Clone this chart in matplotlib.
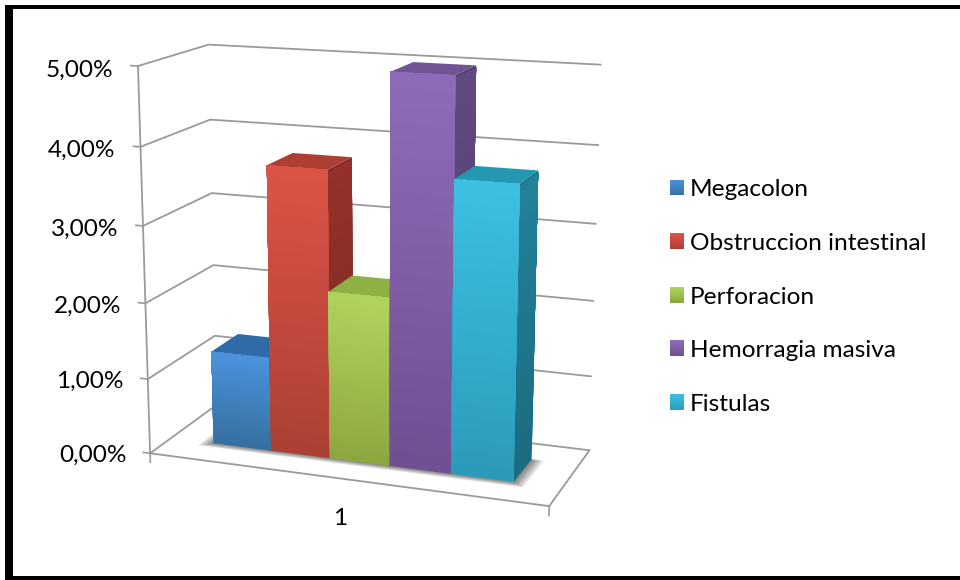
# 3D column chart of complication rates
import numpy as np
import matplotlib
matplotlib.use('Agg')
import matplotlib.pyplot as plt
from matplotlib.legend_handler import HandlerBase
from matplotlib.patches import Patch, Rectangle
from mpl_toolkits.mplot3d import proj3d
from mpl_toolkits.mplot3d.art3d import Poly3DCollection

categories = ["Megacolon", "Obstruccion intestinal", "Perforacion", "Hemorragia masiva", "Fistulas"]
values = [1.25, 3.75, 2.2, 5.0, 3.75]
z_ticks = [0, 1, 2, 3, 4, 5]
z_labels = ["0,00%", "1,00%", "2,00%", "3,00%", "4,00%", "5,00%"]
x_tick_label = "1"

# Face colours per series, top and bottom of the gradient
front_top = ['#4b93dd', '#dd5347', '#b1d45c', '#8f6cb8', '#3cc0e2']
front_bottom = ['#35709f', '#ab4034', '#8ca640', '#6f4f92', '#2c9ab8']
lid_color = ['#2f6ba6', '#ad3f32', '#8fb045', '#6f5594', '#2497b1']
side_top = ['#2a5d92', '#93312a', '#7d9a3a', '#5f4a82', '#23829b']
side_bottom = ['#234d78', '#7c2a24', '#69822f', '#4f3d6c', '#1b6a80']

GRAY = '#9a9a9a'
FONT_SIZE = 17.6
plt.rcParams['font.family'] = ['Lato', 'DejaVu Sans']
plt.rcParams['font.size'] = FONT_SIZE

W, H = 960, 580
fig = plt.figure(figsize=(W / 100, H / 100), dpi=100, facecolor='white')

# Camera and placement of the plot box
scale, center_x, center_y = 3159.9, 370.28, 263.74
left = center_x - 0.095 * scale
top = center_y - 0.09 * scale
side = 0.185 * scale
ax = fig.add_axes([left / W, (H - top - side) / H, side / W, side / H], projection='3d')
ax.view_init(elev=14.47, azim=-69.99)
ax.set_proj_type('persp', focal_length=0.5896)
ax.set_box_aspect((1.0553, 0.408, 1))
ax.patch.set_alpha(0)
ax.computed_zorder = False

x_limits = (-0.75, 5.756)
depth_front, depth_back = 0.304, 0.716
ax.set_xlim(*x_limits)
ax.set_ylim(0, 1)
ax.set_zlim(0, 5)

# Walls and axis lines
for axis in (ax.xaxis, ax.yaxis, ax.zaxis):
    axis.set_pane_color((1, 1, 1, 0))
    axis.pane.set_edgecolor('none')
    axis.line.set_color(GRAY)
    axis.line.set_linewidth(1.3)
    axis._axinfo['tick']['inward_factor'] = 0
    axis._axinfo['tick']['outward_factor'] = 0
ax.xaxis._axinfo['grid'].update(color=(0, 0, 0, 0), linewidth=0)
ax.yaxis._axinfo['grid'].update(color=(0, 0, 0, 0), linewidth=0)
ax.zaxis._axinfo['grid'].update(color=GRAY, linewidth=1.3)

ax.set_xticks([sum(x_limits) / 2 + 0.03], labels=[x_tick_label])
ax.set_yticks([])
ax.set_zticks(z_ticks, labels=[""] * len(z_ticks))
ax.zaxis.set_ticks_position('lower')
ax.tick_params(axis='x', pad=6.5, labelsize=FONT_SIZE)
ax.set_xlim(*x_limits)
ax.set_zlim(0, 5)

# Percent labels and their ticks, set out from the left edge of the floor
camera = ax.get_proj()
for z, text in zip(z_ticks, z_labels):
    ax.plot([x_limits[0] - 0.12, x_limits[0]], [0, 0], [z, z], color=GRAY, lw=1.2, zorder=2)
    X, Y, _ = proj3d.proj_transform(x_limits[0] - 0.42, 0, z, camera)
    ax.text2D(X, Y - 5.5 / scale, text, transform=ax.transData, ha='right', va='center', fontsize=FONT_SIZE)

# Small stubs below the floor's front corners
for x in x_limits:
    ax.plot([x, x], [0, 0], [0, -0.12], color=GRAY, lw=1.2, zorder=2)


def mix(c1, c2, t):
    a = np.array(matplotlib.colors.to_rgb(c1))
    b = np.array(matplotlib.colors.to_rgb(c2))
    return tuple(a + (b - a) * t)


def add_face(corners, color, zorder):
    ax.add_collection3d(Poly3DCollection([corners], facecolors=[color], edgecolors='none', zorder=zorder),
                        autolim=False)


# Soft shadow on the floor around the bars
n_bars = len(values)
for k in range(8):
    dx = 0.2 * (1 - k / 8)
    dy = 0.07 * (1 - k / 8)
    x0, x1 = -dx, n_bars + dx
    y0, y1 = depth_front - dy, depth_back
    add_face([(x0, y0, 0), (x1, y0, 0), (x1, y1, 0), (x0, y1, 0)], (0, 0, 0, 0.07), 3)

# Bars, left to right so that nearer bars cover their neighbours.
# Each gradient is painted bottom up, every band reaching the top of the bar,
# so no seams show between bands.
n_strips = 24
for i, v in enumerate(values):
    xa, xb = i, i + 1
    edges = np.linspace(0, v, n_strips + 1)
    base = 10 + 3 * i

    for j in range(n_strips):
        z0 = edges[j]
        z1 = v if j == 0 else v - 0.03
        t = (j + 0.5) / n_strips
        add_face([(xb, depth_front, z0), (xb, depth_back, z0), (xb, depth_back, z1), (xb, depth_front, z1)],
                 mix(side_bottom[i], side_top[i], t), base + j / n_strips)
    add_face([(xa, depth_front, v), (xb, depth_front, v), (xb, depth_back, v), (xa, depth_back, v)],
             lid_color[i], base + 1)
    for j in range(n_strips):
        z0 = edges[j]
        t = (j + 0.5) / n_strips
        add_face([(xa, depth_front, z0), (xb, depth_front, z0), (xb, depth_front, v), (xa, depth_front, v)],
                 mix(front_bottom[i], front_top[i], t), base + 2 + j / n_strips)


class GradientSwatch(HandlerBase):
    # Legend key filled with the series gradient
    def create_artists(self, legend, orig_handle, xdescent, ydescent, width, height, fontsize, trans):
        c_top, c_bottom = orig_handle.gradient
        strips = []
        for j in range(12):
            strips.append(Rectangle((-xdescent, -ydescent + height * j / 12), width, height / 12 + 0.2,
                                    facecolor=mix(c_bottom, c_top, (j + 0.5) / 12), edgecolor='none',
                                    transform=trans))
        return strips


handles = []
for i in range(n_bars):
    h = Patch(label=categories[i])
    h.gradient = (front_top[i], front_bottom[i])
    handles.append(h)
fig.legend(handles=handles, loc='center left', bbox_to_anchor=(669.5 / W, 1 - 297 / H), frameon=False,
           fontsize=FONT_SIZE, borderpad=0, borderaxespad=0, handlelength=0.61, handleheight=0.61,
           handletextpad=0.22, labelspacing=1.335, handler_map={Patch: GradientSwatch()})

# Black frame at the top, left and bottom of the chart
for x, y, w, h in [(5, 5, W - 5, 4), (5, 5, 8, H - 5), (5, 576, W - 5, 4)]:
    fig.add_artist(Rectangle((x / W, 1 - (y + h) / H), w / W, h / H, transform=fig.transFigure,
                             facecolor='black', edgecolor='none'))

fig.savefig('out.png', dpi=100)
